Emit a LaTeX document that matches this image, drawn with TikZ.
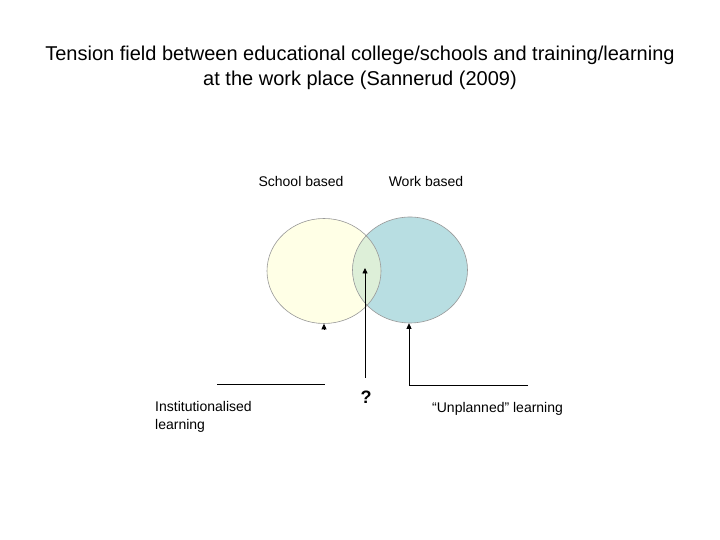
\documentclass[tikz,border=0pt]{standalone}
\usepackage{fontspec}
\setmainfont{Liberation Sans}
\usetikzlibrary{arrows.meta,shapes.geometric}
\definecolor{schoolfill}{HTML}{FFFFE6}
\definecolor{workfill}{HTML}{B8DEE2}
\definecolor{lensfill}{HTML}{DDEFD8}
\begin{document}
\begin{tikzpicture}[x=1pt,y=1pt,
  lbl/.style={font=\fontsize{14}{18}\selectfont, inner sep=0pt},
  ttl/.style={font=\fontsize{20}{25}\selectfont, align=center, inner sep=0pt},
  circ/.style={draw=gray!80, line width=0.6pt},
  conn/.style={line width=0.8pt, -{Triangle[length=5.5pt,width=5pt]}},
  plain/.style={line width=0.8pt}]
\useasboundingbox (0,0) rectangle (720,540);
\fill[white] (0,0) rectangle (720,540);
% title
\node[ttl] (title) at (360,472.5) {Tension field between educational college/schools and training/learning\\at the work place (Sannerud (2009)};
% circles
\fill[schoolfill] (324,269) ellipse [x radius=57, y radius=52.5];
\fill[workfill] (410,270) ellipse [x radius=57.5, y radius=53];
\begin{scope}
  \clip (324,269) ellipse [x radius=57, y radius=52.5];
  \fill[lensfill] (410,270) ellipse [x radius=57.5, y radius=53];
\end{scope}
\node[circ, ellipse, minimum width=114pt, minimum height=105pt, inner sep=0pt] (school) at (324,269) {};
\node[circ, ellipse, minimum width=115pt, minimum height=106pt, inner sep=0pt] (work) at (410,270) {};
\node[lbl] (schoollbl) at (301,358) {School based};
\node[lbl] (worklbl) at (426,358) {Work based};
% labels below
\node[lbl, align=left, anchor=north west] (inst) at (155,139) {Institutionalised\\learning};
\node[lbl, anchor=west] (unpl) at (432,131) {“Unplanned” learning};
\node[lbl, font=\fontsize{18}{20}\selectfont\bfseries] (q) at (366,143) {?};
% connectors
\coordinate (la) at (217,156);
\coordinate (lb) at (325,156);
\draw[plain] (la) -- (lb);
\coordinate (lt) at (324,211);
\draw[conn] (lt) -- (school.south);
\coordinate (mb) at (365,162);
\coordinate (mt) at (365,272);
\draw[conn] (mb) -- (mt);
\coordinate (ra) at (528,155);
\coordinate (rc) at (409,155);
\draw[conn] (ra) -- (rc) -- (work.south -| rc);
\end{tikzpicture}
\end{document}
